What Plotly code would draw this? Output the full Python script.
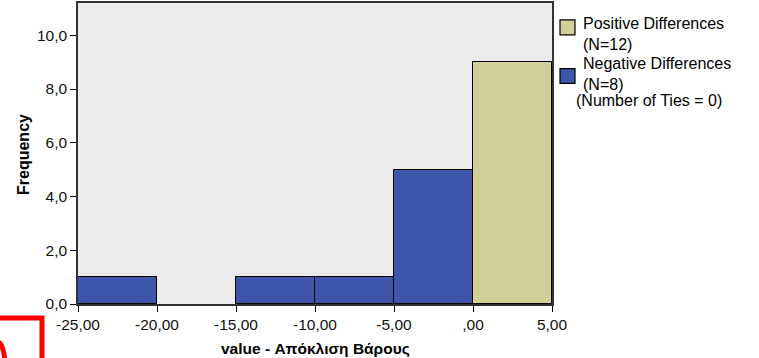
import plotly.graph_objects as go

# Histogram of weight deviation differences (bin width 5)
neg_centers = [-22.5, -17.5, -12.5, -7.5, -2.5]
neg_counts = [1, 0, 1, 1, 5]
pos_centers = [2.5]
pos_counts = [9]
bin_width = 5

x_tickvals = [-25, -20, -15, -10, -5, 0, 5]
x_ticktext = ["-25,00", "-20,00", "-15,00", "-10,00", "-5,00", ",00", "5,00"]
y_tickvals = [0, 2, 4, 6, 8, 10]
y_ticktext = ["0,0", "2,0", "4,0", "6,0", "8,0", "10,0"]

pos_label = ["Positive Differences", "(N=12)"]
neg_label = ["Negative Differences", "(N=8)"]
ties_text = "(Number of Ties = 0)"
x_title = "value - Απόκλιση Βάρους"
y_title = "Frequency"

POS_COLOR = "#D3CF99"
NEG_COLOR = "#3D56A9"

W, H = 759, 358
L, R, T, B = 78, 207, 1, 54
pw, ph = W - L - R, H - T - B


def px_x(p):
    return (p - L) / pw


def px_y(p):
    return (H - B - p) / ph


def outline_widths(counts):
    # empty bins get no outline
    return [1 if c > 0 else 0 for c in counts]


fig = go.Figure()
fig.add_trace(go.Bar(x=neg_centers, y=neg_counts, width=bin_width,
                     marker=dict(color=NEG_COLOR,
                                 line=dict(color="#000000", width=outline_widths(neg_counts))),
                     showlegend=False))
fig.add_trace(go.Bar(x=pos_centers, y=pos_counts, width=bin_width,
                     marker=dict(color=POS_COLOR,
                                 line=dict(color="#000000", width=outline_widths(pos_counts))),
                     showlegend=False))

FAM = "Liberation Sans, Arial, sans-serif"
shapes = []
annotations = []


def text_at(x, y, s, size, xanchor="left", yanchor="middle", bold=False, angle=0):
    annotations.append(dict(xref="paper", yref="paper", x=px_x(x), y=px_y(y),
                            xanchor=xanchor, yanchor=yanchor, showarrow=False,
                            textangle=angle, align="left",
                            text=f"<b>{s}</b>" if bold else s,
                            font=dict(size=size, family=FAM, color="#000000")))


# legend swatches and labels (two-line labels)
for lines, color, sw_top, text_top in [
    (pos_label, POS_COLOR, 18, 11),
    (neg_label, NEG_COLOR, 67, 51),
]:
    shapes.append(dict(type="rect", xref="paper", yref="paper",
                       x0=px_x(560), x1=px_x(575), y0=px_y(sw_top + 15), y1=px_y(sw_top),
                       fillcolor=color, line=dict(color="#000000", width=1.2)))
    text_at(581, text_top, "<br>".join(lines), 16, yanchor="top")
text_at(574, 99, ties_text, 16)

# axis titles
text_at(315, 349, x_title, 15.5, xanchor="center", bold=True)
text_at(24, 154, y_title, 16, xanchor="center", bold=True, angle=-90)

# red highlight frame in the lower left corner
shapes.append(dict(type="rect", xref="paper", yref="paper",
                   x0=px_x(-20), x1=px_x(42), y0=px_y(380), y1=px_y(318),
                   line=dict(color="#FF0000", width=5)))
shapes.append(dict(type="path", xref="paper", yref="paper",
                   path=f"M {px_x(-1)} {px_y(342)} Q {px_x(4)} {px_y(348)} {px_x(5)} {px_y(362)}",
                   line=dict(color="#FF0000", width=5)))

tickfont = dict(size=15.5, family=FAM, color="#111111")
fig.update_layout(
    width=W, height=H,
    margin=dict(l=L, r=R, t=T, b=B),
    paper_bgcolor="#FFFFFF",
    plot_bgcolor="#EBEBEB",
    bargap=0,
    shapes=shapes,
    annotations=annotations,
    font=dict(size=15, family=FAM, color="#000000"),
)
fig.update_xaxes(range=[-25, 5], tickvals=x_tickvals, ticktext=x_ticktext,
                 ticks="outside", ticklen=6, tickcolor="#000000", tickwidth=1,
                 showgrid=False, zeroline=False,
                 showline=True, linecolor="#333333", linewidth=1.5, mirror=True,
                 tickfont=tickfont)
fig.update_yaxes(range=[0, 11.2], tickvals=y_tickvals, ticktext=y_ticktext,
                 ticks="outside", ticklen=6, tickcolor="#000000", tickwidth=1,
                 showgrid=False, zeroline=False,
                 showline=True, linecolor="#333333", linewidth=1.5, mirror=True,
                 tickfont=tickfont)

fig.write_html("out.html")
